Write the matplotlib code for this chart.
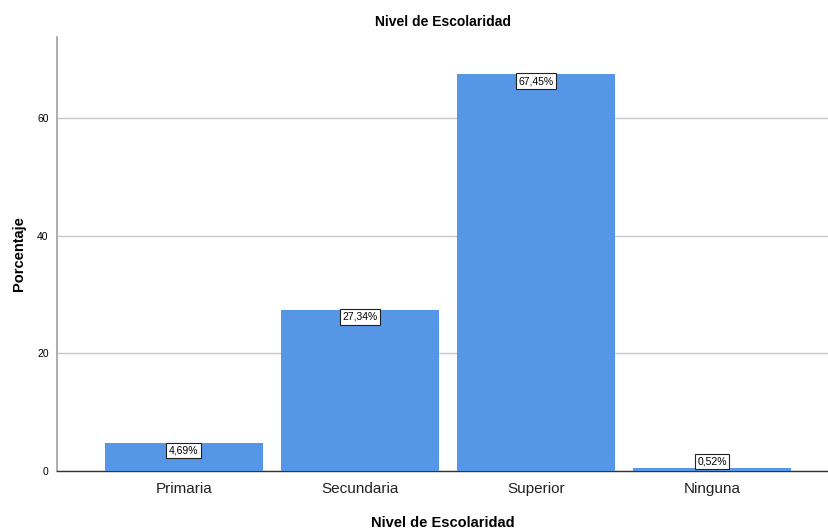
import matplotlib
matplotlib.use("Agg")
import matplotlib.pyplot as plt

plt.rcParams['font.family'] = ['Liberation Sans', 'DejaVu Sans']

categorias = ["Primaria", "Secundaria", "Superior", "Ninguna"]
porcentajes = [4.69, 27.34, 67.45, 0.52]
etiquetas = ["4,69%", "27,34%", "67,45%", "0,52%"]
yticks = [0, 20, 40, 60]

fig = plt.figure(figsize=(8.29, 5.32), dpi=100)
ax = fig.add_axes([0.0688, 0.1147, 0.9312, 0.8158])

x = range(len(categorias))
ax.bar(x, porcentajes, width=0.898, color="#5596e6", zorder=3)

for i, (v, t) in enumerate(zip(porcentajes, etiquetas)):
    va = "top" if v > 3 else "bottom"
    ax.text(i, v - 0.3 if v > 3 else v + 0.3, t, ha="center", va=va, fontsize=7.5, zorder=4,
            bbox=dict(facecolor="white", edgecolor="#222222", boxstyle="square,pad=0.25", lw=0.8))

ax.set_xlim(-0.72, 3.665)
ax.set_ylim(0, 73.8)
ax.set_yticks(yticks)
ax.set_xticks(list(x))
ax.set_xticklabels(categorias, fontsize=11, color="#222222")
ax.tick_params(axis="y", labelsize=7.5, length=0, pad=6)
ax.tick_params(axis="x", length=0, pad=8)
ax.yaxis.grid(True, color="#c8c8c8", lw=1, zorder=0)

for s in ["top", "right"]:
    ax.spines[s].set_visible(False)
ax.spines["left"].set_color("#a0a0a0")
ax.spines["left"].set_linewidth(1.2)
ax.spines["bottom"].set_color("#333333")
ax.spines["bottom"].set_linewidth(1)

ax.set_title("Nivel de Escolaridad", fontsize=10, fontweight="bold", pad=8)
ax.set_xlabel("Nivel de Escolaridad", fontsize=10.5, fontweight="bold", labelpad=14)
ax.set_ylabel("Porcentaje", fontsize=10.5, fontweight="bold", labelpad=8)

fig.savefig("out.png", dpi=100)
